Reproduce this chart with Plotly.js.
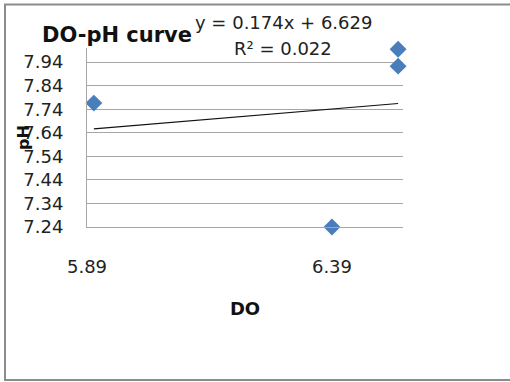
<!DOCTYPE html>
<html>
<head>
<meta charset="utf-8">
<script src="https://cdn.plot.ly/plotly-3.0.1.min.js"></script>
<style>
html,body{margin:0;padding:0;background:#fff;}
#chart{width:510px;height:382px;}
</style>
</head>
<body>
<div id="chart"></div>
<script>
// Data
var doValues = [5.904, 6.525, 6.525, 6.39];
var phValues = [7.766, 7.995, 7.923, 7.24];
var trendSlope = 0.174;
var trendIntercept = 6.629;
var trendR2 = 0.022;
var xTickVals = [5.89, 6.39];
var xTickText = ["5.89", "6.39"];
var yTickVals = [7.24, 7.34, 7.44, 7.54, 7.64, 7.74, 7.84, 7.94];
var yTickText = ["7.24", "7.34", "7.44", "7.54", "7.64", "7.74", "7.84", "7.94"];

var xMin = Math.min.apply(null, doValues);
var xMax = Math.max.apply(null, doValues);
var trendX = [xMin, xMax];
var trendY = trendX.map(function (v) { return trendSlope * v + trendIntercept; });

var font = "DejaVu Sans, sans-serif";

var traces = [
  {
    x: doValues, y: phValues, type: "scatter", mode: "markers",
    marker: {symbol: "diamond", size: 13, color: "#4A7EBB"},
    cliponaxis: false, showlegend: false
  },
  {
    x: trendX, y: trendY, type: "scatter", mode: "lines",
    line: {color: "#111111", width: 1.2},
    showlegend: false
  }
];

var layout = {
  width: 510, height: 382,
  margin: {l: 87, r: 107, t: 48, b: 155},
  paper_bgcolor: "#ffffff", plot_bgcolor: "#ffffff",
  font: {family: font, color: "#222222", size: 18},
  title: {
    text: "<b>DO-pH curve</b>",
    font: {family: font, size: 21, color: "#111111"},
    xref: "container", yref: "container",
    x: 42 / 510, xanchor: "left",
    y: 1 - 35 / 382, yanchor: "middle"
  },
  xaxis: {
    range: [5.89, 6.535],
    tickvals: xTickVals, ticktext: xTickText,
    showgrid: false, zeroline: false,
    showline: true, linecolor: "#a6a6a6", linewidth: 1,
    ticks: "", ticklabelstandoff: 23,
    tickfont: {family: font, size: 18, color: "#222222"},
    title: {text: "<b>DO</b>", font: {family: font, size: 18, color: "#111111"}, standoff: 26}
  },
  yaxis: {
    range: [7.24, 8.0],
    tickvals: yTickVals, ticktext: yTickText,
    showgrid: true, gridcolor: "#a6a6a6", gridwidth: 1,
    zeroline: false, showline: true, linecolor: "#a6a6a6", linewidth: 1,
    ticks: "", ticklabelstandoff: 19,
    tickfont: {family: font, size: 18, color: "#222222"}
  },
  annotations: [
    {
      text: "y = " + trendSlope.toFixed(3) + "x + " + trendIntercept.toFixed(3),
      xref: "paper", yref: "paper",
      x: (283 - 87) / 316, y: (227 - 22) / 179,
      xanchor: "center", yanchor: "middle", showarrow: false,
      font: {family: font, size: 18, color: "#222222"}
    },
    {
      text: "R² = " + trendR2.toFixed(3),
      xref: "paper", yref: "paper",
      x: (283 - 87) / 316, y: (227 - 48) / 179,
      xanchor: "center", yanchor: "middle", showarrow: false,
      font: {family: font, size: 18, color: "#222222"}
    },
    {
      text: "<b>pH</b>",
      xref: "paper", yref: "paper",
      x: (23 - 87) / 316, y: (227 - 138) / 179,
      xanchor: "center", yanchor: "middle", showarrow: false,
      textangle: -90,
      font: {family: font, size: 16, color: "#111111"}
    }
  ],
  shapes: [
    {
      type: "rect", xref: "paper", yref: "paper",
      x0: (5 - 87) / 316, x1: (530 - 87) / 316,
      y0: (227 - 380) / 179, y1: (227 - 4.5) / 179,
      line: {color: "#8c8c8c", width: 2}, fillcolor: "rgba(0,0,0,0)"
    }
  ]
};

Plotly.newPlot("chart", traces, layout, {displayModeBar: false, staticPlot: true});
</script>
</body>
</html>
